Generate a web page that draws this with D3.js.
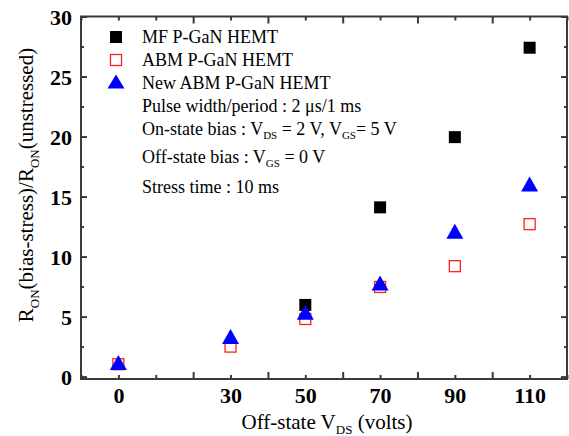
<!DOCTYPE html>
<html>
<head>
<meta charset="utf-8">
<script src="https://cdn.jsdelivr.net/npm/d3@7"></script>
<style>
  body { margin: 0; background: #fff; }
  svg { display: block; font-family: "Liberation Serif", "Times New Roman", serif; }
  .axis path, .axis line { stroke: #3a3a3a; stroke-width: 2; }
  .axis text { font-family: "Liberation Serif", serif; font-weight: bold; font-size: 22px; fill: #000; }
</style>
</head>
<body>
<svg></svg>
<script>
// off-state drain voltage (volts)
let xCats = [0, 30, 50, 70, 90, 110]
let xLabels = ['0', '30', '50', '70', '90', '110']
// MF P-GaN HEMT only visible from 50 V on
let mfX = [50, 70, 90, 110]
let mfVals = [5.97, 14.1, 19.95, 27.4]
let abmVals = [1.03, 2.5, 4.8, 7.47, 9.2, 12.7]
let newAbmVals = [1.18, 3.35, 5.37, 7.8, 12.1, 16.04]
let yTicks = [0, 5, 10, 15, 20, 25, 30]
let yMinor = [2.5, 7.5, 12.5, 17.5, 22.5, 27.5]
let xMajor = [20, 40, 60, 80, 100]
let xMinor = [-10, 0, 10, 30, 50, 70, 90, 110, 120]

let width = 569
let height = 436
let padL = 81, padR = 567, padT = 16.5, padB = 379

let svg = d3.select('svg')
    .attr('width', width)
    .attr('height', height)

let xScale = d3.scaleLinear().domain([-10, 120]).range([padL, padR])
let yScale = d3.scaleLinear().domain([-0.2, 30]).range([padB, padT])

let tri = (w, h) => `M0,${-h/2}L${w/2},${h/2}L${-w/2},${h/2}Z`

let drawAxes = () => {
    let mk = (axis, vals, size, tx) => {
        let g = svg.append('g')
            .attr('class', 'axis')
            .attr('transform', tx)
            .call(axis.tickValues(vals).tickSizeInner(size).tickSizeOuter(0).tickFormat(''))
        g.select('.domain').remove()
        return g
    }
    // bottom / top
    mk(d3.axisBottom(xScale), xMajor, -7, `translate(0,${padB})`)
    mk(d3.axisBottom(xScale), xMinor, -4, `translate(0,${padB})`)
    mk(d3.axisTop(xScale), xMajor, -7, `translate(0,${padT})`)
    mk(d3.axisTop(xScale), xMinor, -4, `translate(0,${padT})`)
    // left / right
    mk(d3.axisLeft(yScale), yTicks, -6, `translate(${padL},0)`)
    mk(d3.axisLeft(yScale), yMinor, -3, `translate(${padL},0)`)
    mk(d3.axisRight(yScale), yTicks, -6, `translate(${padR},0)`)
    mk(d3.axisRight(yScale), yMinor, -3, `translate(${padR},0)`)

    // frame
    svg.append('rect')
        .attr('x', padL).attr('y', padT)
        .attr('width', padR - padL).attr('height', padB - padT)
        .attr('fill', 'none').attr('stroke', '#3a3a3a').attr('stroke-width', 2)

    // tick labels
    let xl = svg.append('g')
        .attr('class', 'axis')
        .attr('transform', `translate(0,${padB})`)
        .call(d3.axisBottom(xScale).tickValues(xCats).tickSize(0)
            .tickFormat((d, i) => xLabels[i]))
    xl.select('.domain').remove()
    xl.selectAll('text').attr('y', 0).attr('dy', '24px')

    let yl = svg.append('g')
        .attr('class', 'axis')
        .attr('transform', `translate(${padL},0)`)
        .call(d3.axisLeft(yScale).tickValues(yTicks).tickSize(0).tickFormat(d3.format('d')))
    yl.select('.domain').remove()
    yl.selectAll('text').attr('x', -9).attr('dy', '0.36em')
}

let drawPoints = () => {
    svg.append('g').selectAll('rect')
        .data(mfX)
        .enter()
        .append('rect')
        .attr('x', (d) => xScale(d) - 6)
        .attr('y', (d, i) => yScale(mfVals[i]) - 6)
        .attr('width', 12).attr('height', 12)
        .attr('fill', '#000')

    svg.append('g').selectAll('rect')
        .data(xCats)
        .enter()
        .append('rect')
        .attr('x', (d) => xScale(d) - 5.5)
        .attr('y', (d, i) => yScale(abmVals[i]) - 5.5)
        .attr('width', 11).attr('height', 11)
        .attr('fill', 'none')
        .attr('stroke', '#ff2020').attr('stroke-width', 1.3)

    svg.append('g').selectAll('path')
        .data(xCats)
        .enter()
        .append('path')
        .attr('d', tri(17, 15))
        .attr('transform', (d, i) => `translate(${xScale(d)},${yScale(newAbmVals[i])})`)
        .attr('fill', '#0000ff')
}

let drawLegend = () => {
    let g = svg.append('g').attr('font-size', '18px').attr('fill', '#000')
    g.append('rect').attr('x', 110).attr('y', 31).attr('width', 12).attr('height', 12).attr('fill', '#000')
    g.append('rect').attr('x', 110.5).attr('y', 54.5).attr('width', 11).attr('height', 11)
        .attr('fill', 'none').attr('stroke', '#ff2020').attr('stroke-width', 1.3)
    g.append('path').attr('d', tri(17, 14)).attr('transform', 'translate(116,81.5)').attr('fill', '#0000ff')

    let tx = 142
    let lines = [
        [43, [['MF P-GaN HEMT']]],
        [66, [['ABM P-GaN HEMT']]],
        [89, [['New ABM P-GaN HEMT']]],
        [112, [['Pulse width/period : 2 \u03bcs/1 ms']]],
        [135, [['On-state bias : V'], ['DS', 1], [' = 2 V, V'], ['GS', 1], ['= 5 V']]],
        [163, [['Off-state bias : V'], ['GS', 1], [' = 0 V']]],
        [192.5, [['Stress time : 10 ms']]]
    ]
    lines.forEach(([y, parts]) => {
        let t = g.append('text').attr('x', tx).attr('y', y)
        parts.forEach(([s, sub]) => {
            if (sub) {
                t.append('tspan').attr('font-size', '11px').attr('dy', 4).text(s)
            } else {
                let sp = t.append('tspan').text(s)
                if (t.node().childNodes.length > 1) sp.attr('dy', -4)
            }
        })
    })
}

let drawTitles = () => {
    let xt = svg.append('text')
        .attr('x', 327).attr('y', 429)
        .attr('text-anchor', 'middle')
        .attr('font-size', '21px')
    xt.append('tspan').text('Off-state V')
    xt.append('tspan').attr('font-size', '13px').attr('dy', 5).text('DS')
    xt.append('tspan').attr('dy', -5).text(' (volts)')

    let yt = svg.append('text')
        .attr('transform', 'translate(33,185) rotate(-90)')
        .attr('text-anchor', 'middle')
        .attr('font-size', '21px')
    yt.append('tspan').text('R')
    yt.append('tspan').attr('font-size', '13px').attr('dy', 6).text('ON')
    yt.append('tspan').attr('dy', -6).text('(bias-stress)/R')
    yt.append('tspan').attr('font-size', '13px').attr('dy', 6).text('ON')
    yt.append('tspan').attr('dy', -6).text('(unstressed)')
}

drawAxes()
drawPoints()
drawLegend()
drawTitles()
</script>
</body>
</html>
